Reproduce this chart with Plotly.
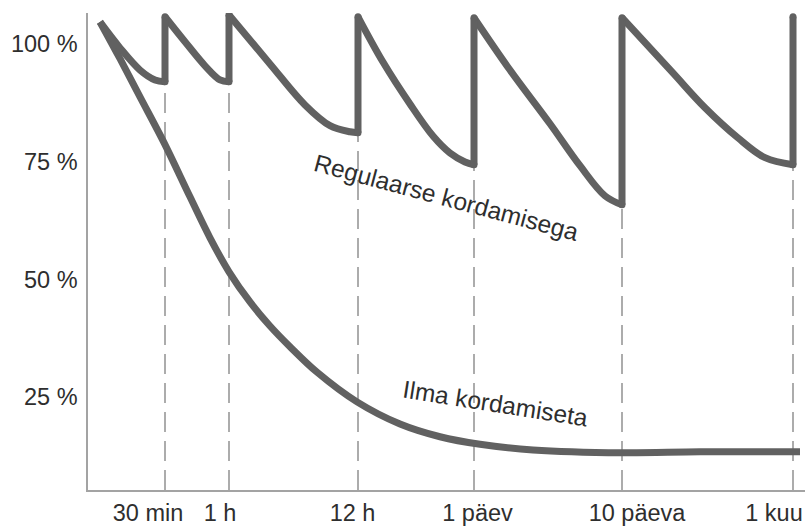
import plotly.graph_objects as go

# ---- data ----
# x = position along the drawn (non-uniform) time axis, y = retention in %
reg_x = [12, 32, 52, 67, 77, 77,
         97, 117, 132, 141, 141,
         182, 217, 242, 262, 270, 270,
         295, 322, 345, 362, 377, 386, 386,
         422, 462, 492, 517, 534, 534,
         584, 617, 650, 677, 705, 705]
reg_y = [104.6, 99.1, 94.4, 92.3, 91.9, 105.7,
         100.4, 95.3, 92.3, 91.9, 106.1,
         95.7, 87.0, 82.6, 81.3, 81.1, 105.7,
         96.1, 87.2, 80.4, 76.8, 74.9, 74.3, 105.5,
         94.4, 83.0, 74.1, 67.7, 65.8, 105.5,
         94.0, 86.4, 80.0, 75.8, 74.3, 105.7]

norev_x = [12, 32, 52, 76, 102, 122, 141, 162, 182, 202, 229, 269,
           312, 352, 392, 445, 534, 612, 712]
norev_y = [104.6, 96.8, 88.7, 79.0, 67.5, 58.8, 51.6, 45.2, 40.1, 35.7, 30.3,
           24.0, 19.3, 16.6, 15.0, 13.8, 13.2, 13.4, 13.4]

y_tick_vals = [25, 50, 75, 100]
y_tick_text = ["25 %", "50 %", "75 %", "100 %"]
x_tick_text = ["30 min", "1 h", "12 h", "1 päev", "10 päeva", "1 kuu"]
x_tick_pos = [60, 132, 264.5, 389.5, 549, 686]

label_reg = "Regulaarse kordamisega"
label_norev = "Ilma kordamiseta"

# ---- styling ----
FONT = "Liberation Sans, Arial, Helvetica, sans-serif"
CURVE = "#616161"
DASH = "#808080"
AXIS = "#a3a3a3"
TEXT = "#2e2e2e"
LW = 7
Y_RANGE = [5.3, 106.5]
X_RANGE = [0, 717]

fig = go.Figure()

# split the regular-review path into decay curves and vertical jumps
curves, jumps = [], []
cur_x, cur_y = [reg_x[0]], [reg_y[0]]
for i in range(1, len(reg_x)):
    if reg_x[i] == reg_x[i - 1]:
        curves.append((cur_x, cur_y))
        jumps.append((reg_x[i], reg_y[i - 1], reg_y[i]))
        cur_x, cur_y = [reg_x[i]], [reg_y[i]]
    else:
        cur_x.append(reg_x[i])
        cur_y.append(reg_y[i])
if len(cur_x) > 1:
    curves.append((cur_x, cur_y))

# dashed review lines (from axis up to the trough of the regular curve)
for (jx, ylow, yhigh) in jumps:
    fig.add_trace(go.Scatter(
        x=[jx, jx], y=[Y_RANGE[0], min(ylow, yhigh)], mode="lines",
        line=dict(color=DASH, width=1.3, dash="20px,9px"),
        hoverinfo="skip", showlegend=False))

# curve without review
fig.add_trace(go.Scatter(
    x=norev_x, y=norev_y, mode="lines",
    line=dict(color=CURVE, width=LW, shape="spline", smoothing=1),
    name=label_norev, showlegend=False))

# regular review curve
for cx, cy in curves:
    fig.add_trace(go.Scatter(
        x=cx, y=cy, mode="lines",
        line=dict(color=CURVE, width=LW, shape="spline", smoothing=1),
        name=label_reg, showlegend=False))
for (jx, ylow, yhigh) in jumps:
    fig.add_trace(go.Scatter(
        x=[jx, jx], y=[ylow, yhigh], mode="lines+markers",
        line=dict(color=CURVE, width=LW),
        marker=dict(color=CURVE, size=LW, line=dict(width=0)),
        name=label_reg, showlegend=False))

fig.add_annotation(x=358, y=67.3, text=label_reg, showarrow=False,
                   textangle=15, font=dict(family=FONT, size=24.5, color=TEXT),
                   xanchor="center", yanchor="middle")
fig.add_annotation(x=407, y=23.6, text=label_norev, showarrow=False,
                   textangle=9, font=dict(family=FONT, size=24.5, color=TEXT),
                   xanchor="center", yanchor="middle")

fig.update_layout(
    width=805, height=527,
    margin=dict(l=88, r=0, t=13, b=37, autoexpand=False),
    paper_bgcolor="white", plot_bgcolor="white",
    font=dict(family=FONT, size=23.5, color=TEXT),
    xaxis=dict(range=X_RANGE, showgrid=False, zeroline=False, automargin=False,
               showline=True, linecolor=AXIS, linewidth=1.5,
               tickmode="array", tickvals=x_tick_pos, ticktext=x_tick_text,
               ticks="", ticklabelstandoff=1, fixedrange=True),
    yaxis=dict(range=Y_RANGE, showgrid=False, zeroline=False, automargin=False,
               showline=True, linecolor=AXIS, linewidth=1.5,
               tickmode="array", tickvals=y_tick_vals, ticktext=y_tick_text,
               ticks="", ticklabelstandoff=4, fixedrange=True),
)

fig.write_html(
    "out.html",
    config={"displayModeBar": False},
    post_script="document.body.style.margin='0px';document.body.style.padding='0px';",
)
